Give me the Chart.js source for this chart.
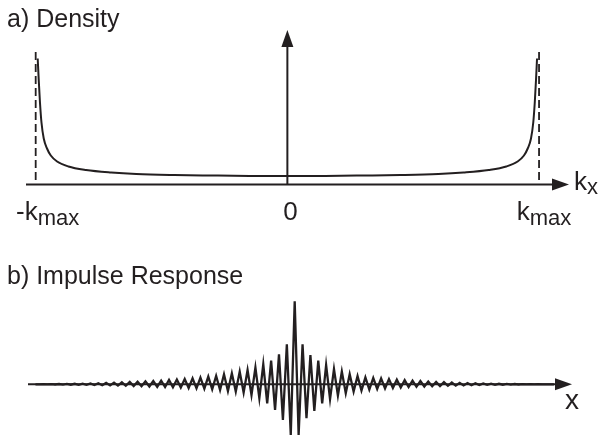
<!DOCTYPE html>
<html>
<head>
<meta charset="utf-8">
<script src="https://cdn.jsdelivr.net/npm/chart.js@4.4.0/dist/chart.umd.min.js"></script>
<style>
  body { margin: 0; background: #fff; }
  canvas { position: absolute; left: 0; }
</style>
</head>
<body>
<canvas id="density" width="602" height="230" style="top:0"></canvas>
<canvas id="impulse" width="602" height="210" style="top:230px"></canvas>
<script>
// a) density, k in units of kmax, height in arbitrary units
const densityK = [-0.992, -0.988, -0.983, -0.977, -0.968, -0.955, -0.94, -0.915, -0.87, -0.8, -0.7, -0.6, -0.45, -0.3, -0.15,
  0, 0.15, 0.3, 0.45, 0.6, 0.7, 0.8, 0.87, 0.915, 0.94, 0.955, 0.968, 0.977, 0.983, 0.988, 0.992];
const densityValues = [126, 105, 82, 62, 46, 36, 29, 23, 18, 14.5, 12, 10.5, 9.5, 9, 8.6,
  8.5, 8.6, 9, 9.5, 10.5, 12, 14.5, 18, 23, 29, 36, 46, 62, 82, 105, 126];
const kTicks = [-1, 0, 1];
const kTickLabels = [["-k", "max"], ["0", ""], ["k", "max"]];
const kMarkers = [-1, 1];

// b) impulse response samples, left to right, centre sample in the middle
const impulseValues = [
  0, 0, 0.1, -0.1, 0.2, -0.2, 0.3, -0.3, 0.4, -0.4, 0.5, -0.5, 0.7, -0.6, 0.9, -0.8,
  1.1, -1.0, 1.4, -1.1, 1.7, -1.3, 2.0, -1.5, 2.3, -1.8, 2.6, -2.0, 3.0, -2.2, 3.3, -2.5,
  3.7, -2.7, 4.3, -3.0, 4.7, -3.3, 5.3, -3.7, 6.0, -4.0, 6.7, -4.3, 7.7, -5.0, 8.3, -5.7,
  10, -6.7, 11, -7.3, 12.7, -8.3, 14.3, -10.7, 16.7, -14, 20, -19, 23.7, -25.7, 30, -35.7,
  40, -50.7,
  83,
  -50.7, 40, -34, 29.3, -26.7, 23.7, -19, 19.3, -14.7, 15.3, -11.3, 12.7, -9, 10, -7.3,
  8.3, -6.3, 7, -5.3, 6.3, -4.6, 5.8, -4.1, 5.2, -3.6, 4.6, -3.2, 4.1, -2.8, 3.6, -2.5,
  3.2, -2.2, 2.8, -1.9, 2.4, -1.7, 2.1, -1.5, 1.8, -1.3, 1.5, -1.1, 1.3, -0.9, 1.1, -0.8,
  0.9, -0.6, 0.7, -0.5, 0.5, -0.4, 0.4, -0.3, 0.3, -0.2, 0.2, -0.1, 0.1, -0.1, 0.1, 0,
  0, 0, 0
];

const ink = "#231f20";
const font = '"Liberation Sans", Arial, Helvetica, sans-serif';

function arrowRight(ctx, x, y) {
  ctx.beginPath();
  ctx.moveTo(x, y);
  ctx.lineTo(x - 17, y - 6);
  ctx.lineTo(x - 17, y + 6);
  ctx.closePath();
  ctx.fill();
}

function arrowUp(ctx, x, y) {
  ctx.beginPath();
  ctx.moveTo(x, y);
  ctx.lineTo(x - 6, y + 17);
  ctx.lineTo(x + 6, y + 17);
  ctx.closePath();
  ctx.fill();
}

// text with an optional lowered part, e.g. k + "max"
function subText(ctx, main, sub, x, y, size, subSize, drop) {
  ctx.font = size + "px " + font;
  ctx.fillText(main, x, y);
  const w = ctx.measureText(main).width;
  if (sub) {
    ctx.font = subSize + "px " + font;
    ctx.fillText(sub, x + w, y + drop);
  }
}

function subWidth(ctx, main, sub, size, subSize) {
  ctx.font = size + "px " + font;
  let w = ctx.measureText(main).width;
  ctx.font = subSize + "px " + font;
  return w + (sub ? ctx.measureText(sub).width : 0);
}

const densityAxes = {
  id: "densityAxes",
  beforeDatasetsDraw(chart) {
    const { ctx, chartArea: a, scales: { x, y } } = chart;
    const y0 = y.getPixelForValue(0);
    const x0 = x.getPixelForValue(0);
    ctx.save();
    ctx.strokeStyle = ink;
    ctx.fillStyle = ink;
    ctx.lineWidth = 2;
    ctx.beginPath();
    ctx.moveTo(a.left, y0);
    ctx.lineTo(a.right - 12, y0);
    ctx.stroke();
    arrowRight(ctx, a.right, y0);
    ctx.beginPath();
    ctx.moveTo(x0, y0);
    ctx.lineTo(x0, a.top + 12);
    ctx.stroke();
    arrowUp(ctx, x0, a.top);
    ctx.lineWidth = 1.8;
    ctx.setLineDash([8, 4]);
    kMarkers.forEach(k => {
      const px = x.getPixelForValue(k);
      ctx.beginPath();
      ctx.moveTo(px, y.getPixelForValue(132.5));
      ctx.lineTo(px, y0);
      ctx.stroke();
    });
    ctx.restore();
  },
  afterDraw(chart) {
    const { ctx, chartArea: a, scales: { x, y } } = chart;
    const y0 = y.getPixelForValue(0);
    ctx.save();
    ctx.fillStyle = ink;
    ctx.textBaseline = "alphabetic";
    subText(ctx, "a) Density", "", 7, 27, 25);
    const shifts = [12, 3, 5];
    kTicks.forEach((k, i) => {
      const [m, s] = kTickLabels[i];
      const w = subWidth(ctx, m, s, 26, 22);
      subText(ctx, m, s, x.getPixelForValue(k) - w / 2 + shifts[i], y0 + 35, 26, 22, 5);
    });
    subText(ctx, "k", "x", a.right + 5, y0 + 5, 26, 22, 4);
    ctx.restore();
  }
};

const impulseAxes = {
  id: "impulseAxes",
  beforeDatasetsDraw(chart) {
    const { ctx, chartArea: a, scales: { y } } = chart;
    const y0 = y.getPixelForValue(0);
    ctx.save();
    ctx.strokeStyle = ink;
    ctx.fillStyle = ink;
    ctx.lineWidth = 2;
    ctx.beginPath();
    ctx.moveTo(a.left, y0);
    ctx.lineTo(a.right - 12, y0);
    ctx.stroke();
    arrowRight(ctx, a.right, y0);
    ctx.restore();
  },
  afterDraw(chart) {
    const { ctx, chartArea: a, scales: { y } } = chart;
    const y0 = y.getPixelForValue(0);
    ctx.save();
    ctx.fillStyle = ink;
    subText(ctx, "b) Impulse Response", "", 7, 54, 25);
    subText(ctx, "x", "", a.right - 7, y0 + 25, 28);
    ctx.restore();
  }
};

Chart.defaults.font.family = font;

new Chart(document.getElementById("density"), {
  type: "line",
  data: {
    datasets: [{
      data: densityK.map((k, i) => ({ x: k, y: densityValues[i] })),
      borderColor: ink,
      borderWidth: 2,
      pointRadius: 0,
      cubicInterpolationMode: "monotone",
      fill: false
    }]
  },
  options: {
    responsive: false,
    animation: false,
    layout: { padding: { left: 26, right: 33, top: 30, bottom: 45.5 } },
    plugins: { legend: { display: false }, tooltip: { enabled: false } },
    scales: {
      x: { type: "linear", min: -1.0385, max: 1.119, display: false },
      y: { min: 0, max: 154.5, display: false }
    }
  },
  plugins: [densityAxes]
});

new Chart(document.getElementById("impulse"), {
  type: "line",
  data: {
    datasets: [{
      data: impulseValues.map((v, i) => ({ x: i - (impulseValues.length - 1) / 2, y: v })),
      borderColor: ink,
      borderWidth: 2.3,
      pointRadius: 0,
      tension: 0,
      fill: false
    }]
  },
  options: {
    responsive: false,
    animation: false,
    layout: { padding: { left: 28, right: 30, top: 0, bottom: 0 } },
    plugins: { legend: { display: false }, tooltip: { enabled: false } },
    scales: {
      x: { type: "linear", min: -67.9, max: 70.6, display: false },
      y: { min: -55.7, max: 154.3, display: false }
    }
  },
  plugins: [impulseAxes]
});
</script>
</body>
</html>
